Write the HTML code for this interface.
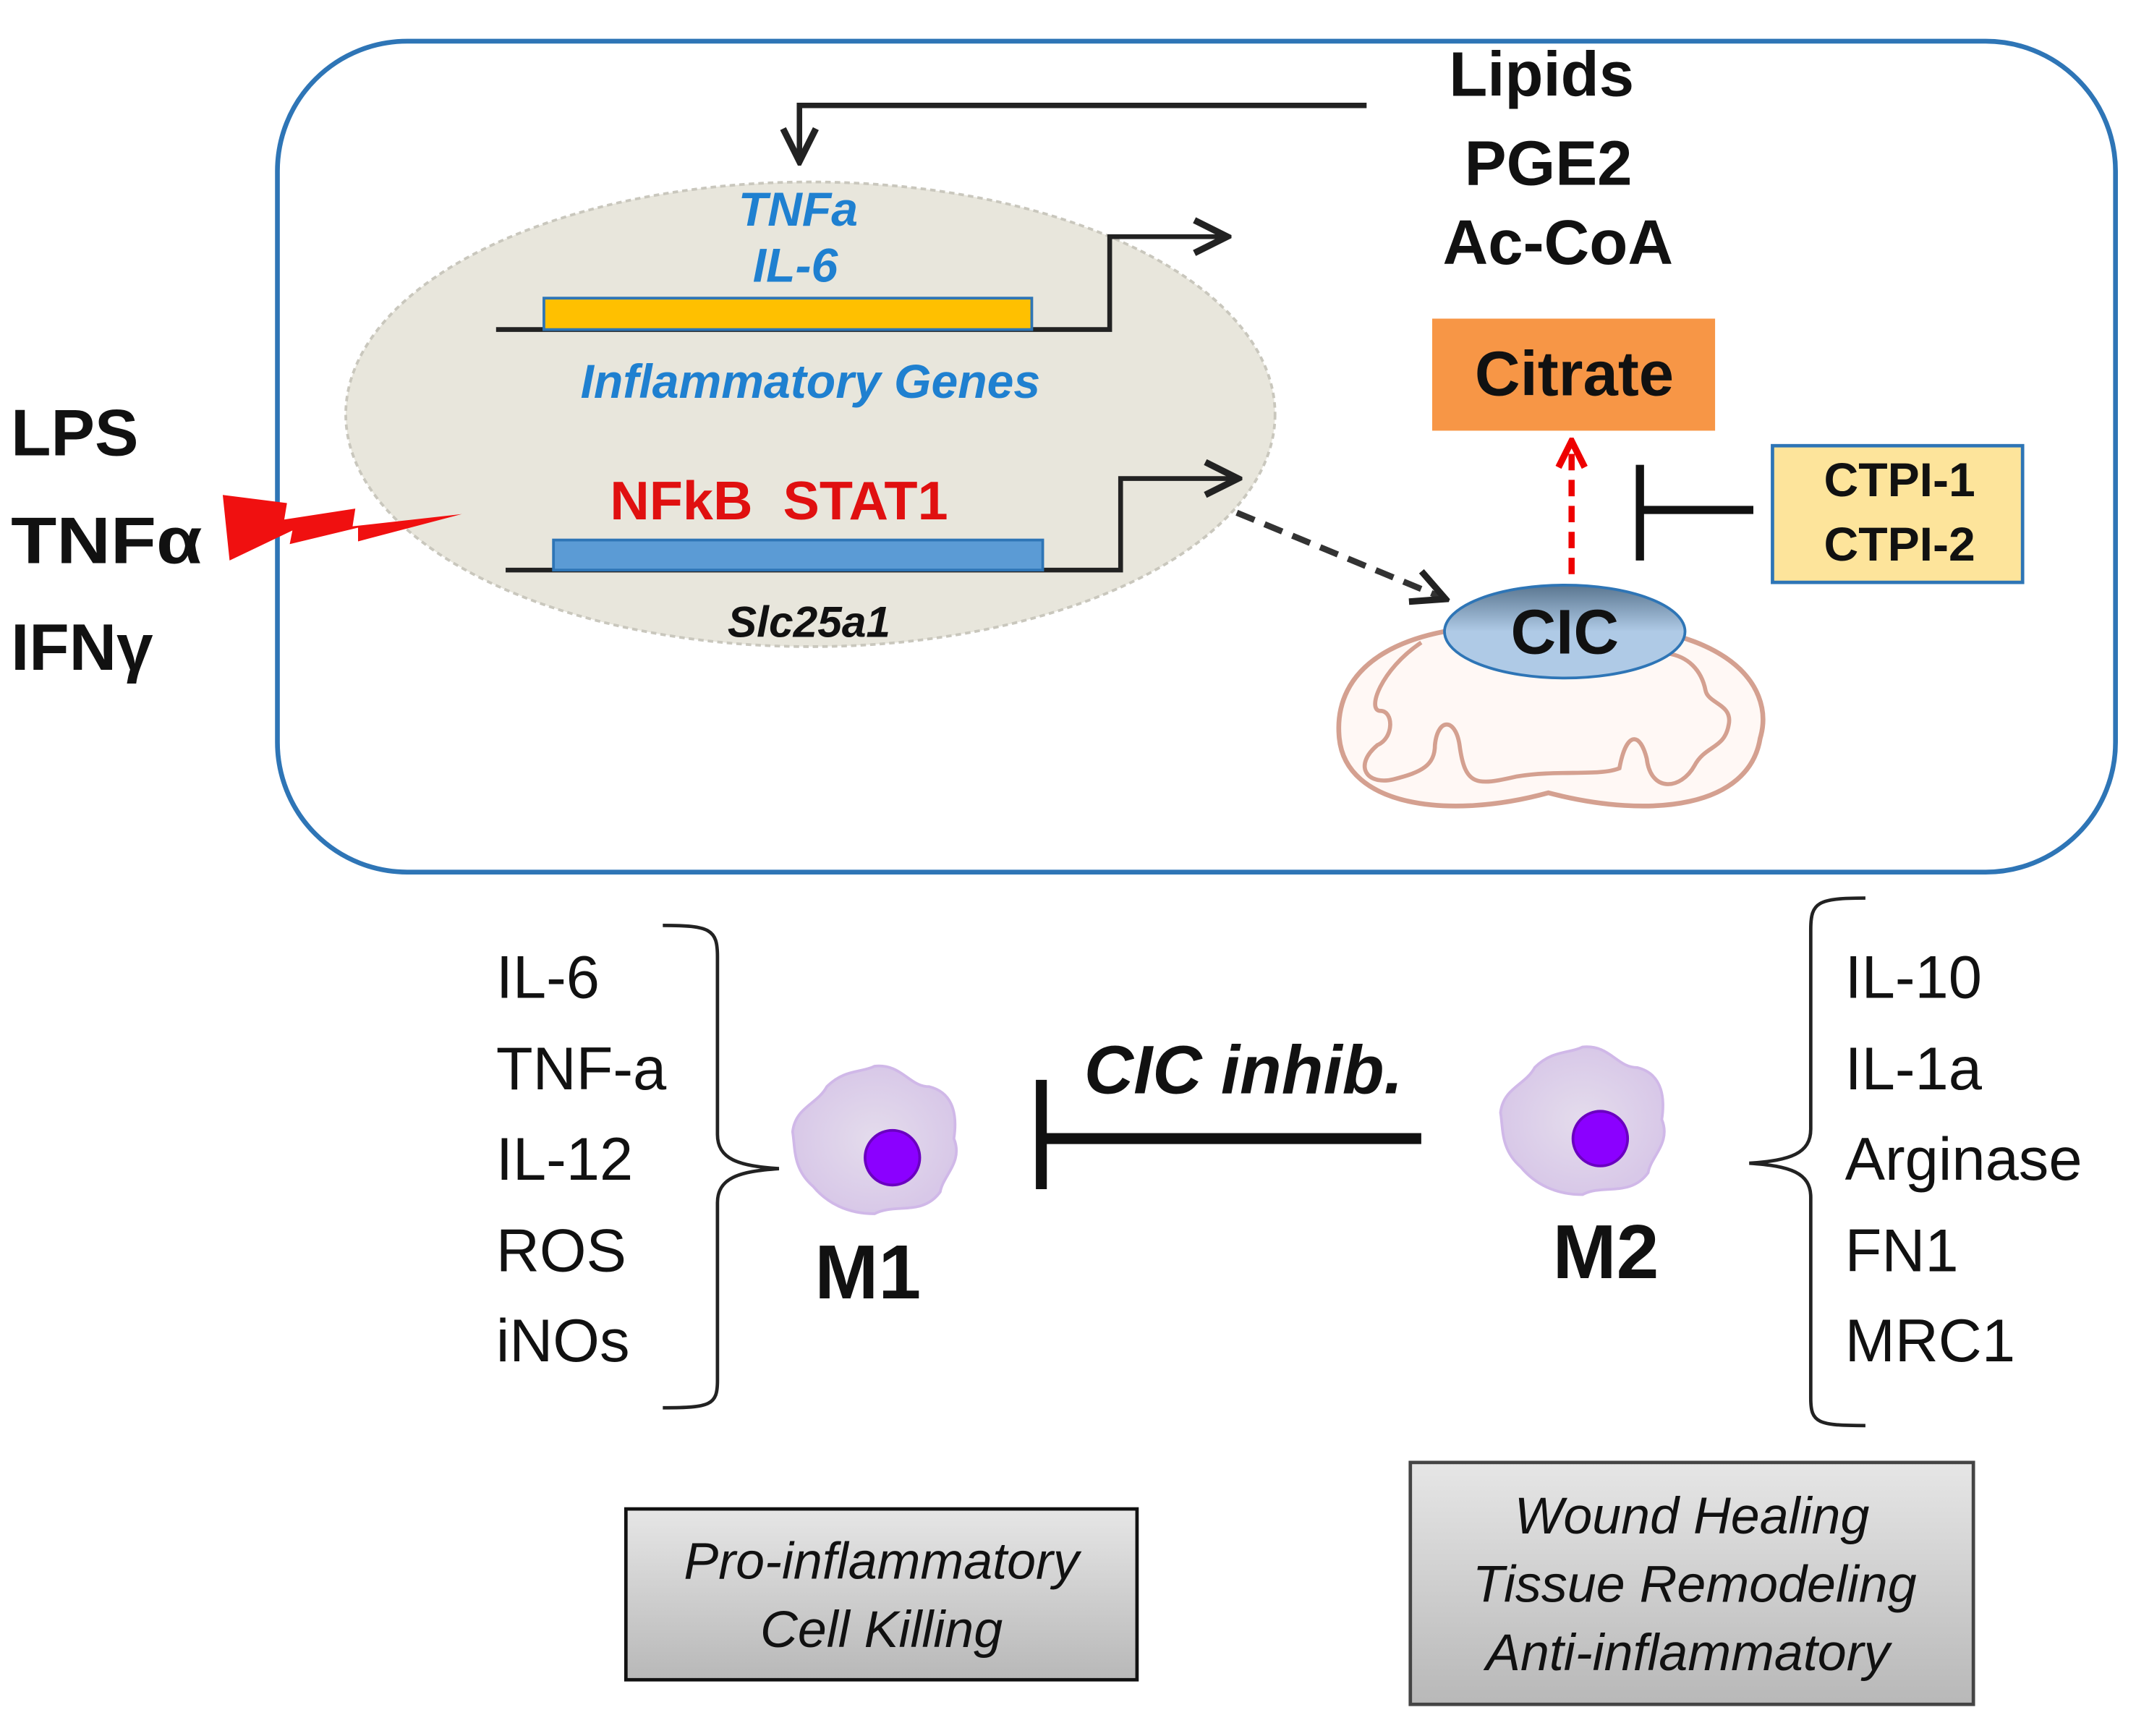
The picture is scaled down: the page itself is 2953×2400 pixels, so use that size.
<!DOCTYPE html>
<html><head><meta charset="utf-8"><style>html,body{margin:0;padding:0;background:#fff}svg{display:block}</style></head><body>
<svg width="2953" height="2400" viewBox="0 0 1563 1270" xmlns="http://www.w3.org/2000/svg" font-family="Liberation Sans, sans-serif">
<defs>
<marker id="ahb" viewBox="0 0 10 10" refX="8" refY="5" markerWidth="30" markerHeight="30" markerUnits="userSpaceOnUse" orient="auto"><path d="M1,1 L9,5 L1,9" fill="none" stroke="#222" stroke-width="1.6"/></marker>
<marker id="ahr" viewBox="0 0 10 10" refX="8" refY="5" markerWidth="24" markerHeight="24" markerUnits="userSpaceOnUse" orient="auto"><path d="M1,1 L9,5 L1,9" fill="none" stroke="#e00" stroke-width="2"/></marker>
<linearGradient id="gb" x1="0" y1="0" x2="0" y2="1"><stop offset="0" stop-color="#e6e6e6"/><stop offset="1" stop-color="#b8b8b8"/></linearGradient>
<linearGradient id="cic" x1="0" y1="0" x2="0" y2="1"><stop offset="0" stop-color="#5a7690"/><stop offset="0.5" stop-color="#afcae6"/><stop offset="1" stop-color="#afcae6"/></linearGradient>
<radialGradient id="cell"><stop offset="0" stop-color="#e4dcec"/><stop offset="1" stop-color="#d8c8e8"/></radialGradient>
</defs>
<rect x="203" y="30" width="1345" height="608" rx="95" fill="#fff" stroke="#2e75b6" stroke-width="3.5"/>
<g font-weight="bold" font-size="46" text-anchor="middle" fill="#111">
<text x="1128" y="70">Lipids</text><text x="1133" y="135">PGE2</text><text x="1140" y="193">Ac-CoA</text></g>
<path d="M1000,77 H585 V115" fill="none" stroke="#222" stroke-width="4" marker-end="url(#ahb)"/>
<ellipse cx="593" cy="303" rx="340" ry="170" fill="#e8e6dc" stroke="#c9c7bd" stroke-width="2" stroke-dasharray="4 3"/>
<g font-weight="bold" font-style="italic" fill="#1f80d0" text-anchor="middle">
<text x="584" y="165" font-size="35">TNFa</text><text x="582" y="206" font-size="35">IL-6</text>
<text x="593" y="291" font-size="35">Inflammatory Genes</text></g>
<path d="M363,241 H812 V173 H895" fill="none" stroke="#222" stroke-width="3.5" marker-end="url(#ahb)"/>
<rect x="398" y="218" width="357" height="23" fill="#ffc000" stroke="#2e75b6" stroke-width="2"/>
<text x="570" y="380" font-weight="bold" font-size="40" fill="#e01010" text-anchor="middle" xml:space="preserve">NFkB  STAT1</text>
<path d="M370,417 H820 V350 H903" fill="none" stroke="#222" stroke-width="3.5" marker-end="url(#ahb)"/>
<rect x="405" y="395" width="358" height="22" fill="#5b9bd5" stroke="#2e75b6" stroke-width="2"/>
<text x="592" y="466" font-weight="bold" font-style="italic" font-size="32" text-anchor="middle" fill="#111">Slc25a1</text>
<path d="M905,375 L1055,437" fill="none" stroke="#333" stroke-width="4.5" stroke-dasharray="14 8" marker-end="url(#ahb)"/>
<rect x="1048" y="233" width="207" height="82" fill="#f79646"/>
<text x="1152" y="289" font-weight="bold" font-size="46" text-anchor="middle" fill="#111">Citrate</text>
<path d="M1150,420 V325" stroke="#e00" stroke-width="4.5" stroke-dasharray="12 7" fill="none" marker-end="url(#ahr)"/>
<path d="M1200,340 V410 M1200,373 H1283" stroke="#111" stroke-width="6" fill="none"/>
<rect x="1297" y="326" width="183" height="100" fill="#fde49b" stroke="#2e75b6" stroke-width="2.5"/>
<g font-weight="bold" font-size="35" text-anchor="middle" fill="#111"><text x="1390" y="363">CTPI-1</text><text x="1390" y="410">CTPI-2</text></g>
<path d="M1133,458 C1260,450 1300,500 1288,540 C1280,590 1210,600 1133,580 C1060,600 985,590 980,540 C975,490 1020,452 1133,458 Z" fill="#fff8f5" stroke="#d4a090" stroke-width="3.5"/>
<path d="M1040,470 C1010,490 1000,520 1010,520 C1020,520 1020,540 1008,545 C990,560 1000,575 1020,570 C1040,565 1050,560 1050,545 C1052,525 1065,525 1068,545 C1072,575 1080,575 1110,568 C1140,563 1170,568 1185,562 C1190,535 1200,535 1205,555 C1208,580 1230,578 1240,560 C1248,545 1262,548 1265,530 C1268,515 1250,515 1248,505 C1245,490 1235,480 1220,478" fill="none" stroke="#d4a090" stroke-width="3"/>
<ellipse cx="1145" cy="462" rx="88" ry="34" fill="url(#cic)" stroke="#2e75b6" stroke-width="2"/>
<text x="1145" y="478" font-weight="bold" font-size="46" text-anchor="middle" fill="#111">CIC</text>
<g font-weight="bold" font-size="48" fill="#111"><text x="8" y="333">LPS</text><text x="8" y="412" textLength="140" lengthAdjust="spacingAndGlyphs">TNFα</text><text x="8" y="490">IFNγ</text></g>
<polygon points="163,362 210,368 208,380 260,372 258,385 338,376 262,396 262,386 212,398 214,388 168,410" fill="#f01010"/>
<g font-size="44" fill="#111"><text x="363" y="730">IL-6</text><text x="363" y="797">TNF-a</text><text x="363" y="863">IL-12</text><text x="363" y="930">ROS</text><text x="363" y="996">iNOs</text>
<text x="1350" y="730">IL-10</text><text x="1350" y="797">IL-1a</text><text x="1350" y="863">Arginase</text><text x="1350" y="930">FN1</text><text x="1350" y="996">MRC1</text></g>
<path d="M485,677 C520,677 525,680 525,700 V830 C525,848 540,853 570,855 C540,857 525,862 525,880 V1010 C525,1028 520,1030 485,1030" fill="none" stroke="#222" stroke-width="2.5"/>
<path d="M1365,657 C1330,657 1325,660 1325,680 V826 C1325,844 1310,849 1280,851 C1310,853 1325,858 1325,876 V1023 C1325,1041 1330,1043 1365,1043" fill="none" stroke="#222" stroke-width="2.5"/>
<g>
<path d="M640,780 C660,778 665,795 680,795 C700,800 700,820 698,833 C705,850 690,860 688,872 C675,890 655,880 640,888 C620,888 605,880 595,868 C580,855 582,840 580,828 C582,810 598,808 605,795 C618,782 630,785 640,780 Z" fill="url(#cell)" stroke="#d0b8e8" stroke-width="2"/>
<circle cx="653" cy="847" r="20" fill="#8b00ff" stroke="#6a00c0" stroke-width="2"/></g>
<g transform="translate(518,-14)">
<path d="M640,780 C660,778 665,795 680,795 C700,800 700,820 698,833 C705,850 690,860 688,872 C675,890 655,880 640,888 C620,888 605,880 595,868 C580,855 582,840 580,828 C582,810 598,808 605,795 C618,782 630,785 640,780 Z" fill="url(#cell)" stroke="#d0b8e8" stroke-width="2"/>
<circle cx="653" cy="847" r="20" fill="#8b00ff" stroke="#6a00c0" stroke-width="2"/></g>
<text x="635" y="950" font-weight="bold" font-size="56" text-anchor="middle" fill="#111">M1</text>
<text x="1175" y="935" font-weight="bold" font-size="56" text-anchor="middle" fill="#111">M2</text>
<path d="M762,790 V870 M762,833 H1040" stroke="#111" stroke-width="8" fill="none"/>
<text x="910" y="800" font-weight="bold" font-style="italic" font-size="50" text-anchor="middle" fill="#111">CIC inhib.</text>
<rect x="458" y="1104" width="374" height="125" fill="url(#gb)" stroke="#111" stroke-width="2.5"/>
<g font-style="italic" font-size="38" text-anchor="middle" fill="#111"><text x="645" y="1155">Pro-inflammatory</text><text x="645" y="1205">Cell Killing</text></g>
<rect x="1032" y="1070" width="412" height="177" fill="url(#gb)" stroke="#444" stroke-width="2.5"/>
<g font-style="italic" font-size="38" text-anchor="middle" fill="#111"><text x="1238" y="1122">Wound Healing</text><text x="1240" y="1172">Tissue Remodeling</text><text x="1235" y="1222">Anti-inflammatory</text></g>
</svg>
</body></html>
